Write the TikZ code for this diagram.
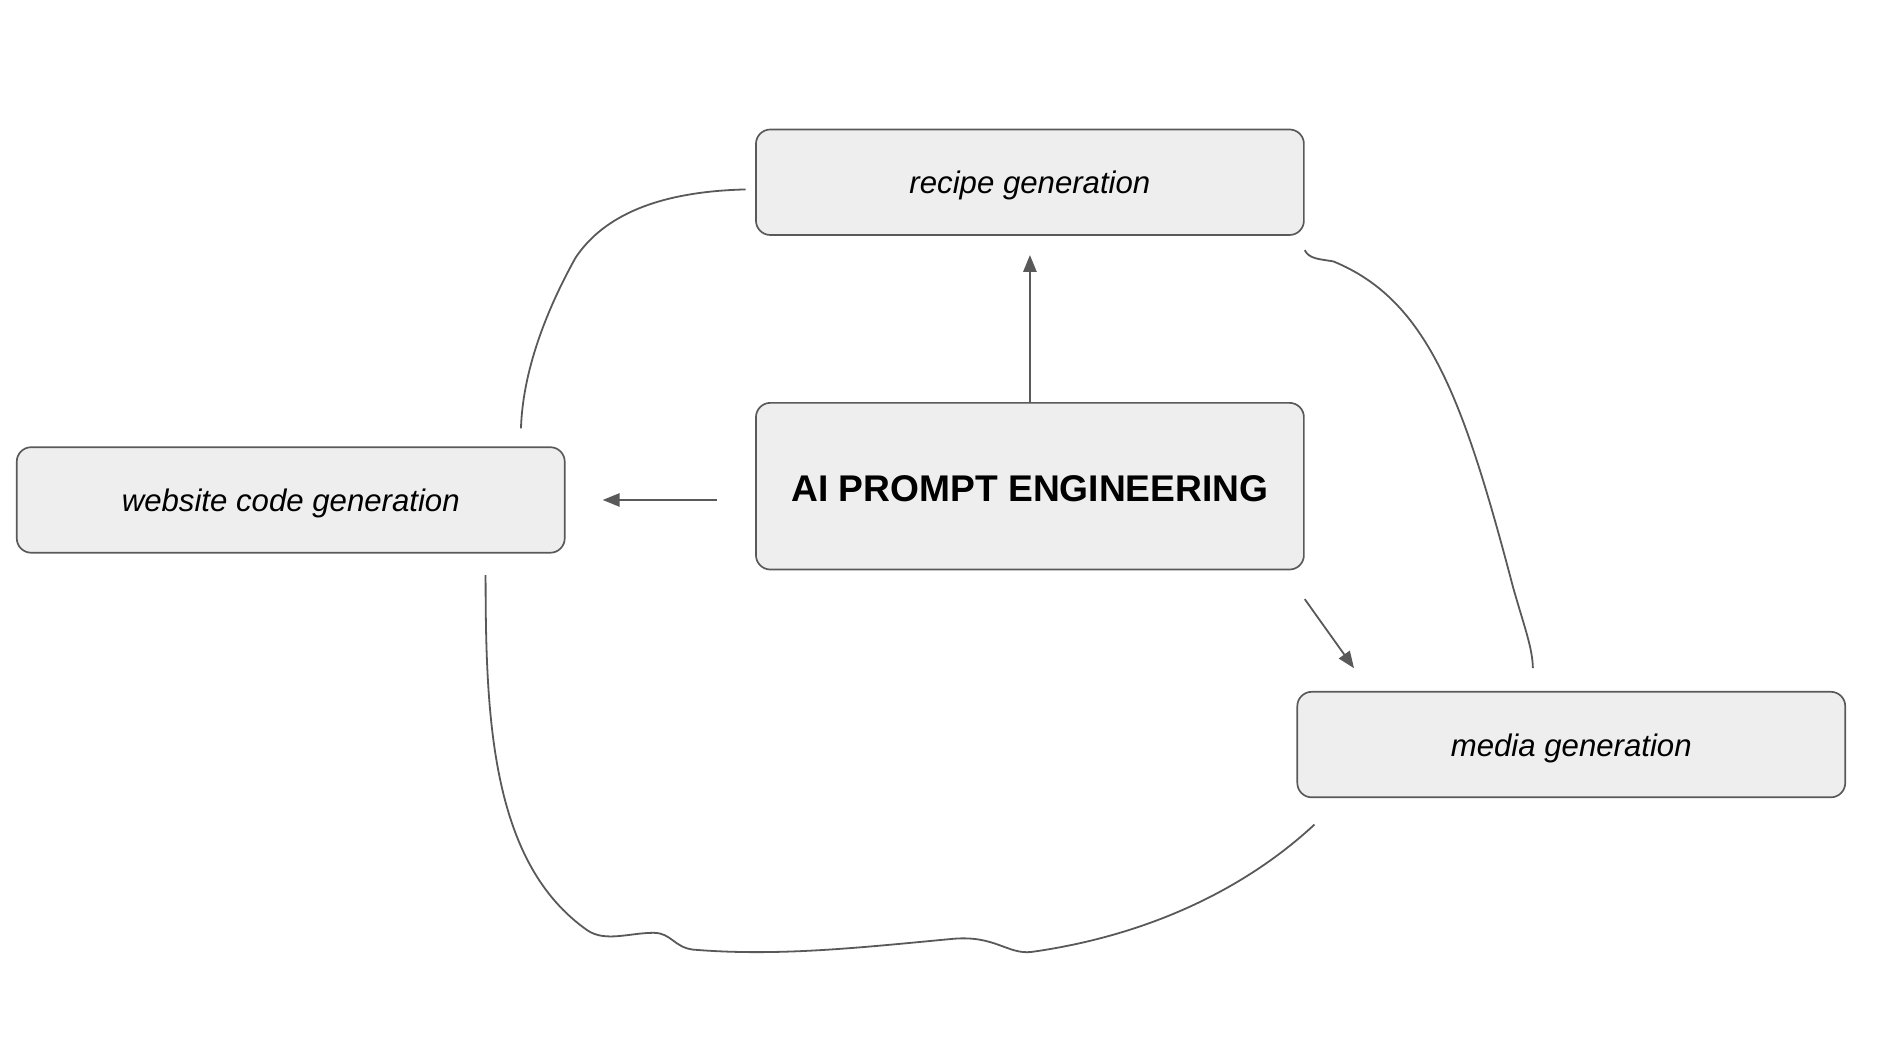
\documentclass[tikz,border=0pt]{standalone}
\usepackage{fontspec}
\setmainfont{Liberation Sans}
\usetikzlibrary{arrows.meta,positioning,calc}

\definecolor{boxline}{HTML}{595959}
\definecolor{boxfill}{HTML}{EEEEEE}

\tikzset{
  genbox/.style={draw=boxline,fill=boxfill,rounded corners=12pt,line width=1.4pt,
    minimum width=457pt,minimum height=88pt,inner sep=0pt,
    text height=22pt,text depth=2.5pt,
    font=\fontsize{26}{30}\selectfont\itshape},
  mainbox/.style={genbox,minimum height=139pt,text height=26pt,text depth=0pt,
    font=\fontsize{31}{34}\selectfont\bfseries},
  link/.style={draw=boxline,line width=1.5pt},
}

\begin{document}
\begin{tikzpicture}[x=1pt,y=-1pt,
  >={Triangle[length=14pt,width=11pt]},
  ]
	\useasboundingbox (0,0) rectangle (1568,869);
	\node [mainbox] (prompt) at (859,405.5) {AI PROMPT ENGINEERING} ;
	\node [genbox] (recipe) at (859,152) {recipe generation} ;
	\node [genbox] (website) at (242.5,417) {website code generation} ;
	\node [genbox] (media) at (1310.5,621) {media generation} ;
	% arrows out of the main box
	\draw [link,->,shorten >=16pt] (prompt.north) -- (recipe.south) ;
	\draw [link,->,shorten <=32pt,shorten >=31pt] (prompt.west |- website.east) -- (website.east) ;
	\coordinate (diagA) at ($(prompt.south east)+(0,24)$) ;
	\coordinate (diagB) at ($(media.north west)+(48,-19)$) ;
	\draw [link,->] (diagA) -- (diagB) ;
	% loose curves round the boxes
	\coordinate (rw) at ($(recipe.west)+(-8,6)$) ;
	\coordinate (wn) at ($(website.north)+(192,-15)$) ;
	\draw [link] (rw) .. controls (540,160) and (500,185) .. (480,215)
	  .. controls (455,260) and (436,310) .. (wn) ;
	\coordinate (rse) at ($(recipe.south east)+(0,12)$) ;
	\coordinate (mn) at ($(media.north)+(-32,-19)$) ;
	\draw [link] (rse) .. controls (1092,216) and (1100,216) .. (1112,218)
	  .. controls (1190,250) and (1220,330) .. (1262,490)
	  .. controls (1272,525) and (1278,540) .. (mn) ;
	\coordinate (ws) at ($(website.south)+(162.5,18)$) ;
	\coordinate (msw) at ($(media.south west)+(15,22)$) ;
	\draw [link] (ws) .. controls (405,600) and (410,720) .. (490,776)
	  .. controls (505,786) and (525,778) .. (545,778)
	  .. controls (560,778) and (562,790) .. (578,792)
	  .. controls (650,798) and (720,790) .. (795,783)
	  .. controls (830,780) and (840,796) .. (860,794)
	  .. controls (960,780) and (1040,740) .. (msw) ;
\end{tikzpicture}
\end{document}
